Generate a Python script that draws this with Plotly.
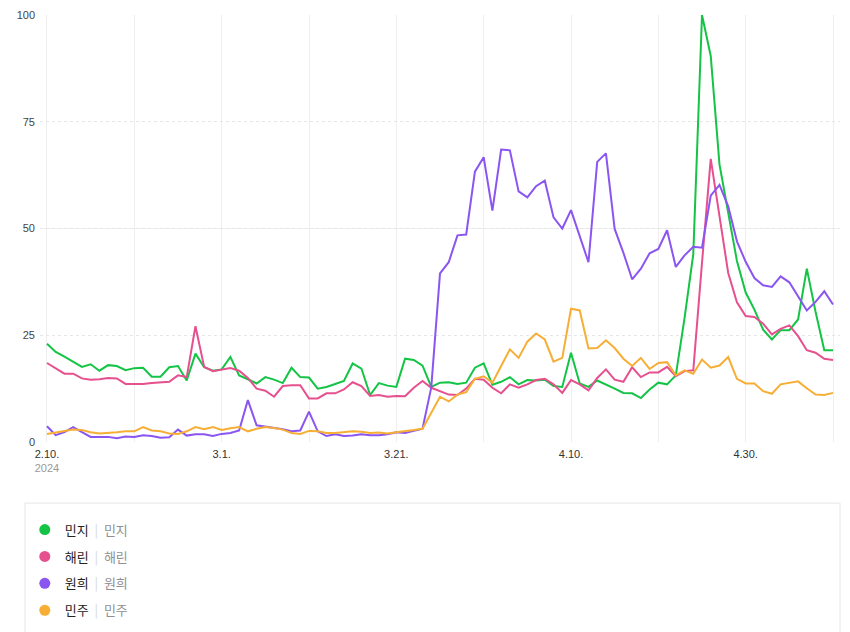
import pandas as pd
import plotly.graph_objects as go

start_date = "2024-02-10"
n_days = 91
dates = pd.date_range(start_date, periods=n_days, freq="D")

series_names = ["민지", "해린", "원희", "민주"]
series_colors = ["#14c446", "#e6508e", "#8a55f0", "#f7ae35"]

minji = [23.0, 21.1, 20.0, 18.7, 17.6, 18.2, 16.7, 18.0, 17.8, 16.8,
         17.3, 17.4, 15.3, 15.3, 17.5, 17.8, 14.4, 20.7, 17.5, 16.7,
         17.0, 19.9, 15.6, 14.7, 13.7, 15.2, 14.6, 13.8, 17.4, 15.2,
         15.1, 12.5, 12.9, 13.6, 14.3, 18.4, 17.2, 11.0, 13.8, 13.2,
         12.9, 19.5, 19.2, 17.9, 12.9, 13.9, 14.0, 13.6, 13.9, 17.4,
         18.4, 13.4, 14.1, 15.2, 13.5, 14.5, 14.4, 14.6, 13.1, 12.9,
         20.9, 13.7, 12.9, 14.4, 13.5, 12.5, 11.5, 11.4, 10.3, 12.3,
         13.9, 13.5, 15.6, 29.0, 44.0, 100.0, 90.4, 65.0, 53.7, 42.4,
         35.0, 31.0, 26.3, 24.0, 26.2, 26.2, 28.7, 40.6, 30.5, 21.5,
         21.5]

haerin = [18.5, 17.2, 16.0, 16.0, 14.9, 14.6, 14.7, 15.0, 14.9, 13.6,
          13.6, 13.6, 13.8, 14.0, 14.1, 15.6, 15.2, 27.1, 17.6, 16.6,
          17.0, 17.3, 16.7, 15.0, 12.5, 12.0, 10.6, 13.1, 13.3, 13.3,
          10.2, 10.2, 11.4, 11.4, 12.3, 14.0, 13.1, 10.8, 11.0, 10.6,
          10.8, 10.7, 12.7, 14.3, 12.7, 11.9, 11.1, 11.0, 12.5, 14.8,
          14.6, 12.7, 11.4, 13.5, 12.7, 13.5, 14.5, 14.8, 13.5, 11.5,
          14.5, 13.5, 12.1, 15.0, 17.0, 14.6, 14.1, 17.5, 15.2, 16.3,
          16.3, 17.6, 15.4, 16.6, 16.8, 42.0, 66.3, 52.9, 39.6, 32.7,
          29.5, 29.3, 27.7, 25.2, 26.5, 27.3, 24.8, 21.5, 20.9, 19.5,
          19.2]

wonhee = [3.7, 1.6, 2.3, 3.5, 2.3, 1.2, 1.2, 1.2, 0.9, 1.3,
          1.2, 1.6, 1.4, 1.0, 1.1, 2.9, 1.5, 1.8, 1.8, 1.4,
          1.9, 2.1, 2.7, 9.8, 3.9, 3.6, 3.4, 3.0, 2.5, 2.7,
          7.1, 2.5, 1.4, 1.8, 1.4, 1.5, 1.8, 1.6, 1.6, 1.8,
          2.3, 2.1, 2.6, 3.1, 12.8, 39.5, 42.1, 48.4, 48.6, 63.3,
          66.7, 54.2, 68.5, 68.3, 58.7, 57.3, 59.9, 61.2, 52.6, 50.0,
          54.3, 48.2, 42.1, 65.6, 67.6, 49.9, 44.3, 38.1, 40.6, 44.2,
          45.2, 49.6, 41.0, 43.7, 45.7, 45.5, 57.7, 60.2, 55.2, 47.0,
          42.2, 38.4, 36.7, 36.3, 38.8, 37.4, 34.2, 30.8, 32.8, 35.3,
          32.2]

minju = [1.9, 2.2, 2.5, 2.9, 2.8, 2.3, 2.0, 2.1, 2.3, 2.5,
         2.5, 3.5, 2.7, 2.5, 2.0, 1.9, 2.5, 3.5, 3.0, 3.5,
         2.8, 3.2, 3.5, 2.5, 3.1, 3.5, 3.3, 2.9, 2.1, 1.9,
         2.6, 2.5, 2.1, 2.1, 2.3, 2.5, 2.4, 2.1, 2.2, 2.0,
         2.3, 2.5, 2.8, 3.1, 6.8, 10.6, 9.5, 11.1, 11.7, 14.8,
         15.4, 13.9, 17.8, 21.7, 19.7, 23.5, 25.4, 24.0, 18.8, 19.7,
         31.2, 30.8, 21.9, 22.0, 23.8, 22.0, 19.5, 17.8, 19.7, 17.1,
         18.5, 18.7, 15.6, 16.8, 16.0, 19.3, 17.4, 17.9, 19.9, 14.8,
         13.7, 13.7, 11.9, 11.3, 13.5, 13.9, 14.2, 12.6, 11.1, 11.0,
         11.5]

series_values = [minji, haerin, wonhee, minju]

x_tick_dates = ["2024-02-10", "2024-03-01", "2024-03-21", "2024-04-10", "2024-04-30"]
x_tick_labels = ["2.10.<br><span style='color:#9a9a9a'>2024</span>", "3.1.", "3.21.", "4.10.", "4.30."]
y_tick_values = [0, 25, 50, 75, 100]

fig = go.Figure()

for name, color, vals in zip(series_names, series_colors, series_values):
    fig.add_trace(go.Scatter(
        x=dates, y=vals, mode="lines", name=name,
        line=dict(color=color, width=2), showlegend=False,
        hoverinfo="skip",
    ))

for name, color in zip(series_names, series_colors):
    label = (f"{name}\u00a0\u00a0<span style='color:#d6d6d6'>|</span>"
             f"\u00a0\u00a0<span style='color:#8f8f8f'>{name}</span>")
    fig.add_trace(go.Scatter(
        x=[None], y=[None], mode="markers", name=label,
        marker=dict(size=11, color=color, symbol="circle"),
        legendgroup=name, showlegend=True,
    ))

day_ms = 86400000
grid_col = "#eeeeee"

fig.update_layout(
    width=850, height=632,
    margin=dict(l=40, r=10, t=15, b=190, autoexpand=False),
    paper_bgcolor="white", plot_bgcolor="white",
    font=dict(family="Liberation Sans, Noto Sans CJK KR, sans-serif", size=11, color="#333"),
    xaxis=dict(
        type="date",
        range=["2024-02-09 04:48", "2024-05-10 19:12"],
        tickvals=x_tick_dates, ticktext=x_tick_labels,
        showgrid=True, gridcolor=grid_col, gridwidth=1,
        minor=dict(dtick=10 * day_ms, tick0="2024-02-10", showgrid=True,
                   gridcolor=grid_col, gridwidth=1),
        zeroline=False, showline=False, ticks="",
        tickfont=dict(size=11, color="#333"),
        ticklabelstandoff=4,
    ),
    yaxis=dict(
        range=[0, 100],
        tickvals=y_tick_values,
        showgrid=True, gridcolor="#e6e6e6", griddash="dot", gridwidth=1,
        minor=dict(dtick=50, tick0=0, showgrid=True, gridcolor=grid_col,
                   griddash="solid", gridwidth=1),
        zeroline=False, showline=False, ticks="",
        tickfont=dict(size=11, color="#444"),
        ticklabelstandoff=4,
    ),
    legend=dict(
        x=-0.019, y=-0.17, xanchor="left", yanchor="top",
        orientation="v", traceorder="grouped", tracegroupgap=7,
        font=dict(family="Noto Sans CJK KR, sans-serif", size=13, color="#222"),
        bgcolor="rgba(0,0,0,0)", borderwidth=0,
    ),
    shapes=[dict(
        type="rect", xref="paper", yref="paper",
        x0=-0.01875, x1=1.0, y0=-0.143, y1=-0.5,
        line=dict(color="#e6e6e6", width=1), fillcolor="rgba(0,0,0,0)",
        layer="below",
    )],
    hovermode=False,
)

fig.write_html("out.html")
